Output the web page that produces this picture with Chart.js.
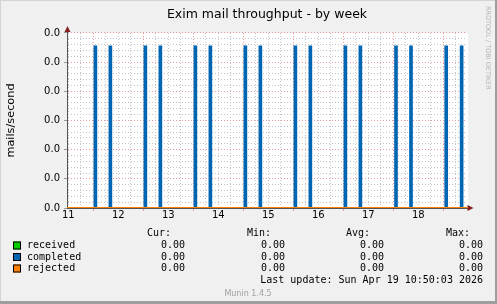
<!DOCTYPE html>
<html>
<head>
<meta charset="utf-8">
<title>Exim mail throughput - by week</title>
<script src="https://cdn.jsdelivr.net/npm/chart.js@4.4.1/dist/chart.umd.min.js"></script>
<style>
    html, body { margin: 0; padding: 0; background: #f0f0f0; }
    #wrap { width: 497px; height: 304px; }
</style>
</head>
<body>
<div id="wrap"><canvas id="eximChart" width="497" height="304"></canvas></div>
<script>
// x values are hours counted from midnight of the 11th
const dayLabels = ['11', '12', '13', '14', '15', '16', '17', '18'];
const yTickLabels = ['0.0', '0.0', '0.0', '0.0', '0.0', '0.0', '0.0'];
const yRange = [0, 0.0006];
const yStep = 0.0001;
const rangeHours = [11.38, 203.38];

const completedHours = [25.0, 32.2, 49.0, 56.2, 73.0, 80.2, 97.0, 104.2, 121.0, 128.2, 145.0, 152.2, 169.3, 176.5, 193.4, 200.8];
const completedRate = [0.000556, 0.000556, 0.000556, 0.000556, 0.000556, 0.000556, 0.000556, 0.000556,
    0.000556, 0.000556, 0.000556, 0.000556, 0.000556, 0.000556, 0.000556, 0.000556];
const receivedRate = [0, 0];
const rejectedRate = [0, 0];

const legendNames = ['received', 'completed', 'rejected'];
const legendColors = ['#00cc00', '#0066b3', '#ff8000'];
const statHeaders = ['Cur:', 'Min:', 'Avg:', 'Max:'];
const statCur = ['0.00', '0.00', '0.00'];
const statMin = ['0.00', '0.00', '0.00'];
const statAvg = ['0.00', '0.00', '0.00'];
const statMax = ['0.00', '0.00', '0.00'];
const lastUpdate = 'Last update: Sun Apr 19 10:50:03 2026';

const majorGrid = '#e99a9a';
const minorGrid = '#c4c4c4';
const arrowColor = '#862020';

function pairUp(xs, ys) {
    return xs.map((x, i) => ({ x: x, y: ys[i] }));
}

const muninFrame = {
    id: 'muninFrame',
    beforeDraw: function (chart) {
        const c = chart.ctx, a = chart.chartArea, w = chart.width, h = chart.height;
        c.save();
        c.fillStyle = '#f0f0f0';
        c.fillRect(0, 0, w, h);
        c.fillStyle = '#ffffff';
        c.fillRect(a.left, a.top, a.right - a.left + 1, a.bottom - a.top);
        c.fillStyle = '#d4d4d4';
        c.fillRect(0, 0, w, 1);
        c.fillRect(0, 0, 1, h);
        c.fillStyle = '#9e9e9e';
        c.fillRect(w - 2, 0, 2, h);
        c.fillRect(0, h - 3, w, 3);
        c.restore();
    },
    afterDraw: function (chart) {
        const c = chart.ctx, a = chart.chartArea;
        c.save();

        // title
        c.fillStyle = '#000';
        c.font = '12.5px "DejaVu Sans"';
        c.textAlign = 'center';
        c.textBaseline = 'alphabetic';
        c.fillText('Exim mail throughput - by week', 267, 17.5);

        // axis arrows
        c.strokeStyle = '#555';
        c.lineWidth = 1;
        c.beginPath();
        c.moveTo(67.5, a.top);
        c.lineTo(67.5, 30);
        c.stroke();
        c.fillStyle = arrowColor;
        c.beginPath();
        c.moveTo(67.5, 26);
        c.lineTo(64.5, 32);
        c.lineTo(70.5, 32);
        c.closePath();
        c.fill();
        c.beginPath();
        c.moveTo(473.5, 208);
        c.lineTo(467.5, 205);
        c.lineTo(467.5, 211);
        c.closePath();
        c.fill();

        // legend table
        const rowY = [245.5, 257, 268.5];
        c.font = '10px "DejaVu Sans Mono"';
        c.textBaseline = 'middle';
        c.fillStyle = '#000';
        c.textAlign = 'right';
        const headRight = [171, 271, 370, 470];
        const valRight = [185, 285, 384, 483];
        statHeaders.forEach((t, i) => c.fillText(t, headRight[i], 233.5));
        legendNames.forEach((name, i) => {
            c.fillStyle = legendColors[i];
            c.fillRect(13, rowY[i] - 4, 8, 8);
            c.strokeStyle = '#000';
            c.strokeRect(13.5, rowY[i] - 3.5, 7, 7);
            c.fillStyle = '#000';
            c.textAlign = 'left';
            c.fillText(name, 27, rowY[i]);
            c.textAlign = 'right';
            [statCur, statMin, statAvg, statMax].forEach((col, j) => {
                c.fillText(col[i], valRight[j], rowY[i]);
            });
        });
        c.fillText(lastUpdate, 483, 280.5);

        c.font = '8px "DejaVu Sans"';
        c.fillStyle = '#a0a0a0';
        c.textAlign = 'center';
        c.fillText('Munin 1.4.5', 248, 293.5);

        // rrdtool watermark
        c.translate(488, 6);
        c.rotate(Math.PI / 2);
        c.font = '6.5px "DejaVu Sans"';
        c.fillStyle = '#b4b4b4';
        c.textAlign = 'left';
        c.fillText('RRDTOOL / TOBI OETIKER', 0, 0);
        c.restore();
    }
};

const ctx = document.getElementById('eximChart').getContext('2d');
Chart.defaults.font.family = '"DejaVu Sans", sans-serif';
Chart.defaults.font.size = 10;
Chart.defaults.color = '#000';

const myChart = new Chart(ctx, {
    type: 'bar',
    plugins: [muninFrame],
    data: {
        datasets: [
            {
                type: 'line',
                label: 'rejected',
                data: pairUp(rangeHours, rejectedRate),
                borderColor: legendColors[2],
                borderWidth: 2,
                pointRadius: 0,
                order: 0
            },
            {
                type: 'bar',
                label: 'completed',
                data: pairUp(completedHours, completedRate),
                backgroundColor: legendColors[1],
                borderWidth: 0,
                barThickness: 3,
                order: 1
            },
            {
                type: 'line',
                label: 'received',
                data: pairUp(rangeHours, receivedRate),
                borderColor: legendColors[0],
                borderWidth: 1,
                pointRadius: 0,
                order: 2
            }
        ]
    },
    options: {
        responsive: false,
        animation: false,
        devicePixelRatio: 1,
        layout: { padding: { top: 33, right: 30, left: 0, bottom: 0 } },
        plugins: {
            legend: { display: false },
            tooltip: { enabled: false },
            title: { display: false }
        },
        scales: {
            x: {
                type: 'linear',
                min: rangeHours[0],
                max: rangeHours[1],
                offset: false,
                afterBuildTicks: function (scale) {
                    var ticks = [];
                    for (var h = 12; h <= scale.max; h += 6) {
                        ticks.push({ value: h });
                    }
                    scale.ticks = ticks;
                },
                afterFit: function (scale) {
                    scale.height = 96;
                },
                grid: {
                    offset: false,
                    color: function (context) {
                        return context.tick && context.tick.value % 24 === 0 ? majorGrid : minorGrid;
                    },
                    drawTicks: true,
                    tickLength: 3,
                    tickColor: function (context) {
                        return context.tick && context.tick.value % 24 === 0 ? majorGrid : 'transparent';
                    }
                },
                border: { display: true, color: '#555', width: 1, dash: [1, 2] },
                ticks: {
                    autoSkip: false,
                    maxRotation: 0,
                    padding: -2,
                    color: '#000',
                    font: { size: 10 },
                    callback: function (value) {
                        return value % 24 === 12 ? dayLabels[(value - 12) / 24] : '';
                    }
                }
            },
            y: {
                min: yRange[0],
                max: yRange[1],
                afterBuildTicks: function (scale) {
                    var ticks = [];
                    for (var i = 0; i <= 30; i++) {
                        ticks.push({ value: i * yStep / 5 });
                    }
                    scale.ticks = ticks;
                },
                afterFit: function (scale) {
                    scale.width = 67;
                },
                grid: {
                    color: function (context) {
                        return context.index % 5 === 0 ? majorGrid : minorGrid;
                    },
                    drawTicks: true,
                    tickLength: 3,
                    tickColor: function (context) {
                        return context.index % 5 === 0 ? '#999' : 'transparent';
                    }
                },
                border: { display: true, color: '#555', width: 1, dash: [1, 2] },
                ticks: {
                    autoSkip: false,
                    padding: 4,
                    color: '#000',
                    font: { size: 10 },
                    callback: function (value, index) {
                        return index % 5 === 0 ? yTickLabels[index / 5] : '';
                    }
                },
                title: {
                    display: true,
                    text: 'mails/second',
                    color: '#000',
                    font: { size: 11.3 },
                    padding: { top: 4, bottom: 0 }
                }
            }
        }
    }
});
</script>
</body>
</html>
